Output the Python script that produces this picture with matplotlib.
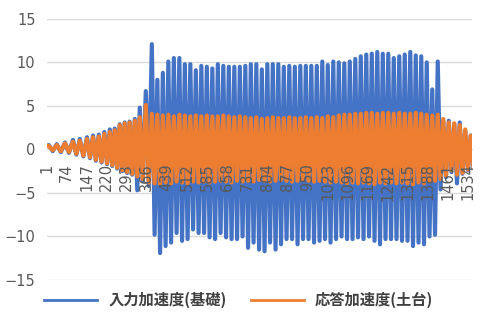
import matplotlib
matplotlib.use("Agg")
import matplotlib.pyplot as plt

plt.rcParams['font.family'] = ['Noto Sans CJK JP', 'DejaVu Sans']

# category axis 1..1548, labels every 73 points
n_points = 1548
tick_labels = list(range(1, 1535, 73))

# sample index of each positive peak
early_idx = [9, 38, 68, 97, 122, 148, 170, 191, 211, 231, 249, 267, 285, 303, 322, 340, 362]
steady_idx = list(range(384, 1425, 20))
tail_idx = [1444, 1464, 1484, 1504, 1524, 1544]

# input acceleration (foundation) - peak and trough per cycle
blue_hi_early = [0.5, 0.6, 0.8, 1.1, 1.2, 1.4, 1.6, 1.7, 2.0, 2.3, 2.4, 2.9, 3.1, 3.2, 3.5, 4.8, 6.7]
blue_lo_early = [-0.2, -0.3, -0.4, -0.6, -0.8, -1.0, -1.3, -1.5, -1.7, -1.9, -2.2, -2.5, -2.7, -2.9, -4.7, -3.6, -4.2]
blue_hi_steady = [12.1, 8.0, 8.8, 10.1, 10.5, 10.5, 9.8, 9.8, 9.1, 9.6,
                  9.5, 9.3, 9.8, 9.6, 9.5, 9.5, 9.5, 9.6, 9.8, 9.8,
                  9.2, 9.8, 9.8, 9.8, 9.5, 9.6, 9.5, 9.6, 9.6, 9.6,
                  9.6, 10.1, 9.7, 10.1, 10.0, 9.9, 10.1, 10.4, 10.7, 10.9,
                  11.0, 11.2, 11.0, 11.0, 10.5, 10.7, 10.9, 11.2, 10.8, 10.7,
                  10.0, 6.9, 10.1]
blue_lo_steady = [-9.8, -11.9, -11.1, -10.7, -9.6, -10.5, -10.3, -9.2, -9.6, -9.6,
                  -10.1, -10.3, -9.6, -10.1, -10.3, -10.3, -10.0, -11.3, -10.7, -11.5,
                  -11.7, -10.7, -11.5, -10.9, -10.3, -10.3, -10.9, -10.3, -10.3, -10.7,
                  -10.5, -10.3, -10.7, -10.3, -10.0, -10.3, -10.3, -10.1, -10.3, -10.0,
                  -10.5, -10.9, -10.3, -10.3, -10.3, -10.5, -10.5, -11.1, -10.7, -10.9,
                  -10.0, -9.8, -4.6]
blue_hi_tail = [3.2, 3.3, 2.9, 3.1, 2.1, 1.6]
blue_lo_tail = [-3.2, -2.6, -3.9, -2.8, -2.4, -2.1]

# response acceleration (sill)
orange_hi_early = [0.4, 0.5, 0.7, 0.9, 1.0, 1.2, 1.4, 1.5, 1.8, 2.0, 2.2, 2.8, 3.0, 3.1, 3.3, 3.7, 5.1]
orange_lo_early = [-0.1, -0.2, -0.3, -0.5, -0.7, -0.9, -1.2, -1.4, -1.6, -1.8, -2.1, -2.4, -2.6, -2.8, -3.1, -3.4, -3.8]
orange_hi_steady = [4.1, 4.0, 3.9, 4.0, 3.8, 4.0, 3.9, 3.8, 3.9, 3.8,
                    3.9, 3.8, 3.8, 3.9, 3.8, 3.7, 3.8, 3.7, 3.6, 3.7,
                    3.5, 3.6, 3.7, 3.6, 3.6, 3.7, 3.6, 3.6, 3.7, 3.6,
                    3.7, 3.6, 3.8, 3.7, 3.9, 4.0, 4.0, 4.1, 4.1, 4.2,
                    4.2, 4.1, 4.2, 4.2, 4.1, 4.2, 4.1, 4.1, 4.2, 4.1,
                    4.0, 3.9, 4.0]
orange_lo_steady = [-3.9, -4.0, -3.8, -3.9, -3.7, -3.8, -3.9, -3.7, -3.8, -3.7,
                    -3.8, -3.7, -3.6, -3.7, -3.8, -3.6, -3.7, -3.6, -3.7, -3.5,
                    -3.6, -3.7, -3.6, -3.5, -3.6, -3.7, -3.6, -3.5, -3.6, -3.7,
                    -3.6, -3.7, -3.8, -3.7, -3.8, -3.9, -3.8, -3.9, -3.8, -3.9,
                    -4.0, -3.8, -3.9, -3.8, -3.9, -3.8, -3.9, -4.0, -3.8, -3.9,
                    -3.7, -3.6, -3.4]
orange_hi_tail = [3.5, 3.1, 3.0, 2.8, 2.3, 1.6]
orange_lo_tail = [-3.0, -2.4, -2.9, -2.7, -2.3, -2.0]

start_value = 0.4


def build(idx, hi, lo):
    xs, ys = [1], [start_value]
    for i, p in enumerate(idx):
        nxt = idx[i + 1] if i + 1 < len(idx) else p + 20
        xs += [p, (p + nxt) / 2]
        ys += [hi[i], lo[i]]
    return xs, ys


peaks = early_idx + steady_idx + tail_idx
bx, by = build(peaks, blue_hi_early + blue_hi_steady + blue_hi_tail,
               blue_lo_early + blue_lo_steady + blue_lo_tail)
ox, oy = build(peaks, orange_hi_early + orange_hi_steady + orange_hi_tail,
               orange_lo_early + orange_lo_steady + orange_lo_tail)

fig = plt.figure(figsize=(4.8, 3.2), dpi=100)
ax = fig.add_axes([0.097, 0.125, 0.886, 0.816])

ax.plot(bx, by, color='#4472C4', lw=3.0, solid_joinstyle='round',
        label='入力加速度(基礎)', zorder=3)
ax.plot(ox, oy, color='#ED7D31', lw=3.0, solid_joinstyle='round',
        label='応答加速度(土台)', zorder=4)

ax.set_xlim(1, n_points)
ax.set_ylim(-15, 15)
ax.set_yticks(range(-15, 16, 5))
ax.grid(axis='y', color='#d9d9d9', lw=1)
ax.set_axisbelow(True)
ax.xaxis.set_zorder(6)  # category labels sit on top of the data, like Excel

for s in ['top', 'right', 'left']:
    ax.spines[s].set_visible(False)
ax.spines['bottom'].set_position(('data', 0))
ax.spines['bottom'].set_color('#d9d9d9')
ax.spines['bottom'].set_zorder(1)

ax.set_xticks(tick_labels)
ax.set_xticklabels([str(t) for t in tick_labels], rotation=90, va='top', ha='center',
                   family='DejaVu Sans')
for lbl in ax.get_yticklabels():
    lbl.set_family('DejaVu Sans')
ax.tick_params(axis='x', length=0, pad=10, labelsize=10.5, labelcolor='#595959')
ax.tick_params(axis='y', length=0, pad=8, labelsize=10.5, labelcolor='#595959')

leg = fig.legend(loc='center', bbox_to_anchor=(0.497, 0.0625), ncol=2, frameon=False,
                 handlelength=3.5, handletextpad=0.7, columnspacing=1.6,
                 prop={'size': 11, 'weight': 'bold'})
for line in leg.get_lines():
    line.set_linewidth(2.0)
for t in leg.get_texts():
    t.set_color('#404040')

fig.savefig('out.png', dpi=100)
